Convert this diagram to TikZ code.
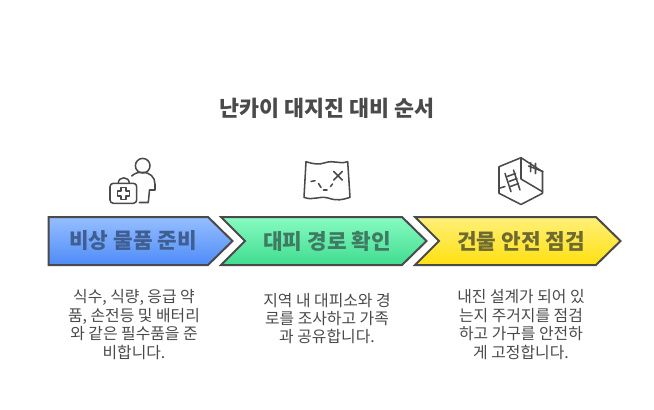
\documentclass[tikz,border=0pt]{standalone}
\usepackage{fontspec}
\setmainfont{Noto Sans CJK KR}
\definecolor{linegray}{HTML}{4A4A4A}
\definecolor{bodygray}{HTML}{4A4A4A}
\definecolor{bluetop}{HTML}{96BEFF}
\definecolor{bluebot}{HTML}{4E8CF8}
\definecolor{greentop}{HTML}{87FBC1}
\definecolor{greenbot}{HTML}{40DC90}
\definecolor{yellowtop}{HTML}{FFF07A}
\definecolor{yellowbot}{HTML}{FFE010}
\definecolor{bluetext}{HTML}{3F5F92}
\definecolor{greentext}{HTML}{3F7A62}
\definecolor{yellowtext}{HTML}{6E6A30}
\tikzset{
  every picture/.style={line width=0.35pt},
  band/.style={draw=linegray,line width=1.5pt,line join=miter},
  bandlabel/.style={font=\fontsize{16}{18}\selectfont\bfseries,inner sep=0pt},
  bodytext/.style={font=\fontsize{11.9}{13.8}\selectfont,text=bodygray,align=center,inner sep=0pt},
  icon/.style={draw=linegray,line width=1.15pt,line cap=round,line join=round},
}
\begin{document}
\begin{tikzpicture}[x=0.75pt,y=0.75pt,yscale=-1]
  \useasboundingbox (0,0) rectangle (654,410);

  \node [font=\fontsize{16.3}{18}\selectfont\bfseries,text=bodygray,inner sep=0pt] (title) at (327,108) {난카이 대지진 대비 순서};

  \draw [band,top color=bluetop,bottom color=bluebot] (48.5,217) -- (208,217) -- (232.5,241) -- (208,265) -- (48.5,265) -- cycle ;
  \draw [band,top color=greentop,bottom color=greenbot] (221,217) -- (402,217) -- (426.5,241) -- (402,265) -- (221,265) -- (245,241) -- cycle ;
  \draw [band,top color=yellowtop,bottom color=yellowbot] (415,217) -- (596,217) -- (620.5,241) -- (596,265) -- (415,265) -- (439,241) -- cycle ;

  \node [bandlabel,text=bluetext] (prepare) at (133,241) {비상 물품 준비};
  \node [bandlabel,text=greentext] (route) at (327,241) {대피 경로 확인};
  \node [bandlabel,text=yellowtext] (building) at (521,241) {건물 안전 점검};

  \node [bodytext] (preparetext) at (134,324.5) {식수, 식량, 응급 약\\품, 손전등 및 배터리\\와 같은 필수품을 준\\비합니다.};
  \node [bodytext] (routetext) at (327,318.5) {지역 내 대피소와 경\\로를 조사하고 가족\\과 공유합니다.};
  \node [bodytext] (buildingtext) at (521,324.5) {내진 설계가 되어 있\\는지 주거지를 점검\\하고 가구를 안전하\\게 고정합니다.};

  %person with first aid case
  \draw [icon] (142.7,165.7) circle (7.3);
  \draw [icon] (131.7,176) .. controls (135,173) and (138,172.3) .. (142,172.3) .. controls (150,172.3) and (155,177) .. (155,184) -- (155,190) -- (149.5,190) -- (148.3,202.5) -- (139.5,202.5);
  \draw [icon,rounded corners=2.5] (110,183.3) rectangle (136.7,203.3);
  \draw [icon] (118.3,183.3) .. controls (118.3,176) and (129.3,176) .. (129.3,183.3);
  \draw [icon] (120.8,187.3) -- (125.8,187.3) -- (125.8,190.8) -- (129.3,190.8) -- (129.3,195.8) -- (125.8,195.8) -- (125.8,199.3) -- (120.8,199.3) -- (120.8,195.8) -- (117.3,195.8) -- (117.3,190.8) -- (120.8,190.8) -- cycle;

  %map
  \draw [icon] (306,161.7) .. controls (313,164) and (319,165) .. (326,162.5) .. controls (334,160) and (339,164.5) .. (347.7,161.7) -- (350,197.3) .. controls (342,200) and (337,201) .. (328,198) .. controls (319,195.5) and (313,201) .. (304,197.3) -- cycle;
  \draw [icon] (333.7,171.5) -- (342.3,180) (342.3,171.5) -- (333.7,180);
  \draw [icon] (311,181.5) -- (315,180.7) (318.5,183.5) -- (321,187.5) (323.5,190) -- (327,190) (330.5,186.5) -- (332.5,184);

  %building with ladder
  \draw [icon] (542.5,171.7) -- (521,157.7) -- (499,166.7) -- (499,193.3) -- (521,204.5) -- (542.5,193.3) -- cycle;
  \draw [icon] (521,157.7) -- (521,179) -- (542.5,191.7);
  \draw [icon] (530.7,162.7) -- (530.7,171.7) (535.5,163.5) -- (535.5,173.5) (528.5,166) -- (543,171.5);
  \draw [icon] (505,173.3) -- (511,191.7) (513.5,170) -- (520,190);
  \draw [icon] (507,176.5) -- (515.5,173.5) (509,181.5) -- (517,178.5) (510.5,186.5) -- (518.5,183.5);
  \draw [icon] (499,188.3) -- (505,186.5);
\end{tikzpicture}
\end{document}
